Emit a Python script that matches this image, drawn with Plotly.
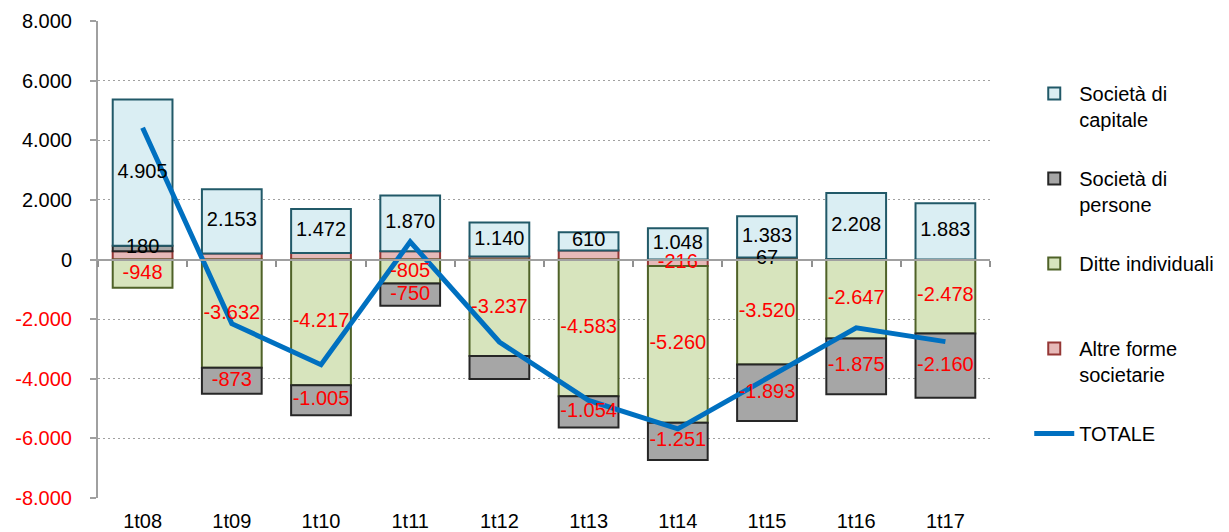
import plotly.graph_objects as go

categories = ["1t08", "1t09", "1t10", "1t11", "1t12", "1t13", "1t14", "1t15", "1t16", "1t17"]

soc_capitale = [4905, 2153, 1472, 1870, 1140, 610, 1048, 1383, 2208, 1883]
soc_persone = [180, -873, -1005, -750, -770, -1054, -1251, -1893, -1875, -2160]
ditte_individuali = [-948, -3632, -4217, -805, -3237, -4583, -5260, -3520, -2647, -2478]
altre_forme = [280, 200, 220, 280, 100, 300, -216, 67, 20, 0]
totale = [4417, -2152, -3530, 595, -2767, -4727, -5679, -3963, -2294, -2755]

# which bar segments carry a value label
show_capitale = [True] * 10
show_persone = [True, True, True, True, False, True, True, True, True, True]
show_ditte = [True] * 10
show_altre = [False, False, False, False, False, False, True, True, False, False]

y_ticks = [8000, 6000, 4000, 2000, 0, -2000, -4000, -6000, -8000]

FONT = "Liberation Sans, Arial, sans-serif"
FS = 20


def it(v):
    return f"{v:,}".replace(",", ".")


fig = go.Figure()

# stacking order: positive -> altre, persone, capitale ; negative -> altre, ditte, persone
series = [
    ("Altre forme<br>societarie", altre_forme, show_altre, "#E6B9B8", "#953735", 4),
    ("Ditte individuali<br>&nbsp;", ditte_individuali, show_ditte, "#D7E4BD", "#4F6228", 3),
    ("Società di<br>persone", soc_persone, show_persone, "#A6A6A6", "#262626", 2),
    ("Società di<br>capitale", soc_capitale, show_capitale, "#DAEEF3", "#215968", 1),
]

pos_base = [0] * len(categories)
neg_base = [0] * len(categories)
label_traces = []
for name, vals, show, fill, border, rank in series:
    fig.add_trace(go.Bar(
        name=name, x=categories, y=vals,
        marker=dict(color=fill, line=dict(color=border, width=2)),
        legendrank=rank, legendgroup=name, hoverinfo="x+y",
    ))
    centers, texts, cols = [], [], []
    for i, v in enumerate(vals):
        if v >= 0:
            centers.append(pos_base[i] + v / 2)
            pos_base[i] += v
        else:
            centers.append(neg_base[i] + v / 2)
            neg_base[i] += v
        texts.append(it(v) if show[i] else "")
        cols.append("#FF0000" if v < 0 else "#000000")
    label_traces.append(go.Scatter(
        x=categories, y=centers, text=texts, mode="text",
        textposition="middle center",
        textfont=dict(family=FONT, size=FS, color=cols),
        showlegend=False, hoverinfo="skip", cliponaxis=False,
    ))

fig.add_trace(go.Scatter(
    name="TOTALE<br>&nbsp;", x=categories, y=totale, mode="lines",
    line=dict(color="#0070C0", width=5), legendrank=5, legendgroup="tot",
))

for t in label_traces:
    fig.add_trace(t)

# helper trace for the axis drawn along zero
fig.add_trace(go.Scatter(x=[-0.5, 9.5], y=[None, None], xaxis="x2", showlegend=False,
                         hoverinfo="skip", mode="lines"))

ticktext = []
for v in y_ticks:
    t = it(v)
    ticktext.append(f"<span style='color:#FF0000'>{t}</span>" if v < 0 else t)

fig.update_layout(
    width=1229, height=532,
    margin=dict(l=98, r=239, t=21, b=34, autoexpand=False),
    paper_bgcolor="white", plot_bgcolor="white",
    barmode="relative", bargap=0.33,
    font=dict(family=FONT, size=FS, color="#000000"),
    showlegend=True,
    legend=dict(x=1.044, xanchor="left", y=0.889, yanchor="top",
                traceorder="grouped", tracegroupgap=30, valign="top",
                font=dict(family=FONT, size=FS), itemwidth=40),
    xaxis=dict(type="category", showline=False, ticks="outside", ticklen=5,
               tickcolor="rgba(0,0,0,0)", showgrid=False, automargin=False,
               tickfont=dict(family=FONT, size=FS), range=[-0.5, 9.5]),
    xaxis2=dict(overlaying="x", anchor="free", position=0.5, range=[-0.5, 9.5],
                tickvals=[i + 0.5 for i in range(-1, 10)], showticklabels=False,
                ticks="outside", ticklen=6, tickwidth=2, tickcolor="#909090",
                showline=True, linecolor="#A0A0A0", linewidth=2, showgrid=False,
                zeroline=False, automargin=False),
    yaxis=dict(range=[-8000, 8000], tickvals=y_ticks, ticktext=ticktext,
               showgrid=True, gridcolor="#A0A0A0", griddash="2px,3px", gridwidth=1,
               zeroline=False, showline=True, linecolor="#A0A0A0", linewidth=2,
               ticks="outside", ticklen=6, tickwidth=2, tickcolor="#A0A0A0",
               ticklabelstandoff=14, automargin=False,
               tickfont=dict(family=FONT, size=FS)),
)

fig.write_html("out.html", config={"displayModeBar": False},
               post_script="document.body.style.margin='0';document.body.style.overflow='hidden';")
